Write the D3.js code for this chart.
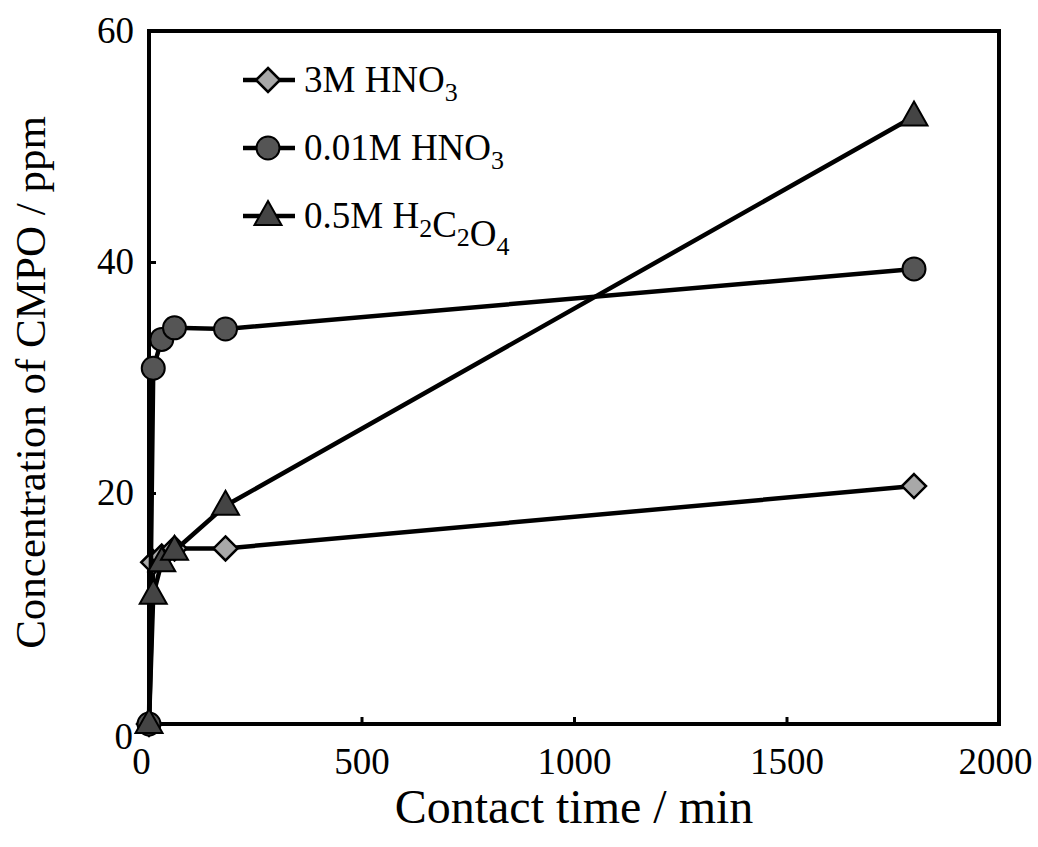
<!DOCTYPE html>
<html>
<head>
<meta charset="utf-8">
<script src="https://cdn.jsdelivr.net/npm/d3@7"></script>
<style>
  body { margin: 0; background: #fff; }
  svg text { font-family: "Liberation Serif", "Times New Roman", serif; fill: #000; }
</style>
</head>
<body>
<svg id="chart" width="1038" height="847"></svg>
<script>
// Contact time (min) for every measurement
const times = [0, 10, 30, 60, 180, 1800];
// Concentration of CMPO (ppm) for each solution
const hno3High = [0, 14.0, 14.5, 15.2, 15.2, 20.6];
const hno3Low = [0, 30.8, 33.3, 34.3, 34.2, 39.4];
const oxalic = [0, 11.2, 14.0, 15.0, 18.9, 52.6];
// Tick values
const xTicks = [0, 500, 1000, 1500, 2000];
const yTicks = [0, 20, 40, 60];

const series = [
    { name: ['3M HNO', ['3']], values: hno3High, shape: 'diamond', fill: '#a8a8a8' },
    { name: ['0.01M HNO', ['3']], values: hno3Low, shape: 'circle', fill: '#555' },
    { name: ['0.5M H', ['2'], 'C', ['2'], 'O', ['4']], values: oxalic, shape: 'triangle', fill: '#444' }
];

const serif = '"Liberation Serif", "Times New Roman", serif';
const margin = { top: 31, right: 39, bottom: 123, left: 149 };
const width = 1038 - margin.left - margin.right;
const height = 847 - margin.top - margin.bottom;

const svg = d3.select('#chart')
    .append('g')
    .attr('transform', `translate(${margin.left},${margin.top})`);

const xScale = d3.scaleLinear().domain([0, 2000]).range([0, width]);
const yScale = d3.scaleLinear().domain([0, 60]).range([height, 0]);

// Axes with inward ticks
const xAxis = svg.append('g')
    .attr('transform', `translate(0,${height})`)
    .call(d3.axisBottom(xScale).tickValues(xTicks).tickFormat(d3.format('d'))
        .tickSize(-7).tickPadding(24));
const yAxis = svg.append('g')
    .call(d3.axisLeft(yScale).tickValues(yTicks).tickFormat(d3.format('d'))
        .tickSize(-7).tickPadding(15));
[xAxis, yAxis].forEach(ax => {
    ax.attr('font-family', serif);
    ax.select('.domain').remove();
    ax.selectAll('line').attr('stroke', '#000').attr('stroke-width', 3);
    ax.selectAll('text').style('font-size', '37px').style('font-family', serif).attr('fill', '#000');
});
// nudge the zero labels and the last label like the reference
xAxis.selectAll('text').filter(d => d === 0).attr('dx', -8);
xAxis.selectAll('text').filter(d => d === 2000).attr('dx', -4);
yAxis.selectAll('text').filter(d => d === 0).attr('dy', '0.66em').attr('dx', -1);

// Frame
svg.append('rect')
    .attr('width', width)
    .attr('height', height)
    .attr('fill', 'none')
    .attr('stroke', '#000')
    .attr('stroke-width', 4);

// Marker helper
function drawMarker(g, shape, fill, x, y) {
    if (shape === 'circle') {
        g.append('circle').attr('cx', x).attr('cy', y).attr('r', 11.5)
            .attr('fill', fill).attr('stroke', '#000').attr('stroke-width', 2);
    } else if (shape === 'diamond') {
        const s = 12;
        g.append('path')
            .attr('d', `M${x},${y - s}L${x + s},${y}L${x},${y + s}L${x - s},${y}Z`)
            .attr('fill', fill).attr('stroke', '#000').attr('stroke-width', 2.5);
    } else {
        g.append('path')
            .attr('d', `M${x},${y - 15}L${x + 13.5},${y + 9}L${x - 13.5},${y + 9}Z`)
            .attr('fill', fill).attr('stroke', '#000').attr('stroke-width', 2);
    }
}

const line = d3.line()
    .x(d => xScale(d[0]))
    .y(d => yScale(d[1]));

// Lines and markers
series.forEach(s => {
    const pts = times.map((t, i) => [t, s.values[i]]);
    svg.append('path')
        .datum(pts)
        .attr('d', line)
        .attr('fill', 'none')
        .attr('stroke', '#000')
        .attr('stroke-width', 4.5);
    const g = svg.append('g');
    pts.forEach(p => drawMarker(g, s.shape, s.fill, xScale(p[0]), yScale(p[1])));
});

// Legend
const legend = svg.append('g').attr('transform', 'translate(94,49)');
series.forEach((s, i) => {
    const row = legend.append('g').attr('transform', `translate(0,${i * 68})`);
    row.append('line')
        .attr('x1', 0).attr('x2', 52)
        .attr('stroke', '#000').attr('stroke-width', 4.5);
    drawMarker(row, s.shape, s.fill, 25, 0);
    const label = row.append('text')
        .attr('x', 61)
        .attr('y', 12)
        .style('font-family', serif)
        .style('font-size', '37px');
    s.name.forEach(part => {
        if (Array.isArray(part)) {
            label.append('tspan').attr('dy', 9).style('font-size', '26px').text(part[0]);
            label.append('tspan').attr('dy', -9).text('');
        } else {
            label.append('tspan').text(part);
        }
    });
});

// Axis titles
svg.append('text')
    .attr('x', width / 2)
    .attr('y', height + 99)
    .attr('text-anchor', 'middle')
    .style('font-family', serif)
    .style('font-size', '48px')
    .text('Contact time / min');

svg.append('text')
    .attr('transform', `translate(-104,${height / 2 + 5}) rotate(-90)`)
    .attr('text-anchor', 'middle')
    .style('font-family', serif)
    .style('font-size', '43px')
    .text('Concentration of CMPO / ppm');
</script>
</body>
</html>
